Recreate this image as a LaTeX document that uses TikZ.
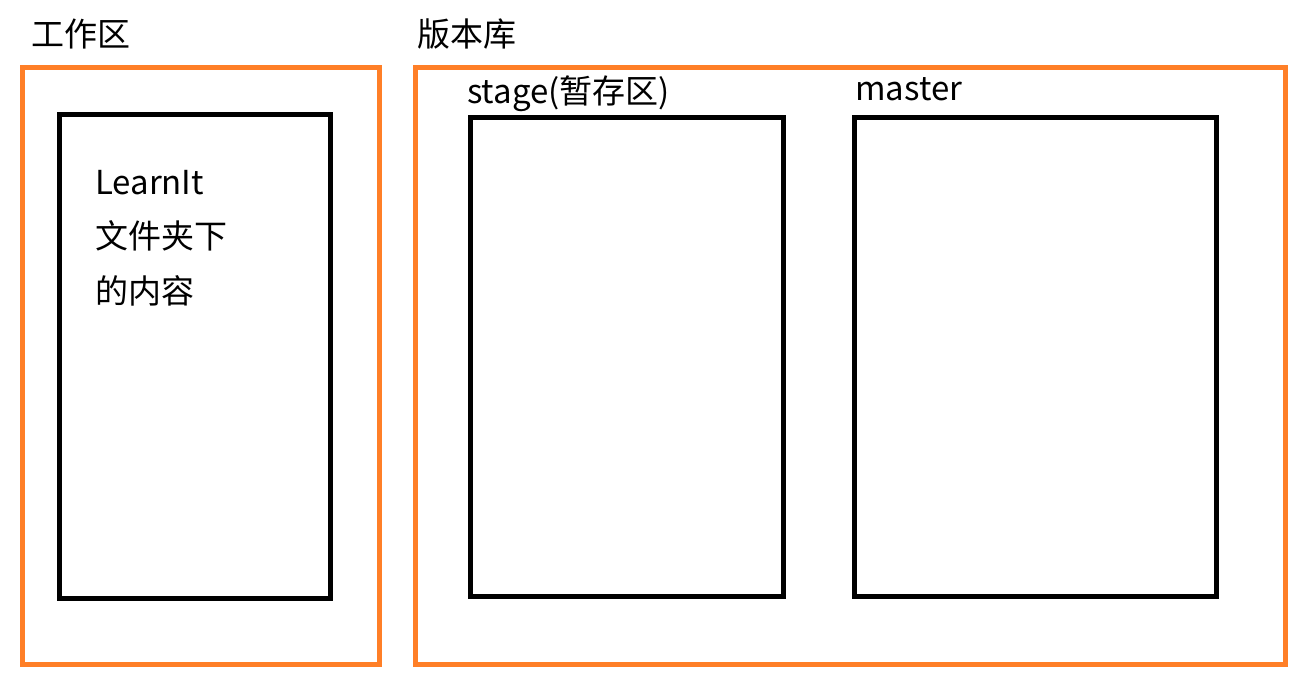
\documentclass[tikz,border=0pt]{standalone}
\usepackage{fontspec}
\setmainfont{Noto Sans CJK SC}
\usepackage{tikz}
\definecolor{boxorange}{RGB}{255,127,39}
\tikzset{
	areabox/.style={draw=boxorange, line width=5pt},
	filebox/.style={draw=black, line width=5pt},
	label/.style={anchor=base west, inner sep=0pt, font=\fontsize{33}{39}\selectfont}
}

\begin{document}
\begin{tikzpicture}[x=1pt, y=-1pt]
		\useasboundingbox (0,0) rectangle (1300,682);

		\draw [areabox] (22.5,67.5) rectangle (379.5,664.5);
		\draw [areabox] (415.5,67.5) rectangle (1285.5,664.5);

		\draw [filebox] (59.5,114.5) rectangle (330.5,598.5);
		\draw [filebox] (470.5,117.5) rectangle (783.5,596);
		\draw [filebox] (854.5,117.5) rectangle (1216.5,596);

		\node [label] (work) at (31,47) {工作区};
		\node [label] (repo) at (417,47) {版本库};
		\node [label] (stage) at (467,103) {stage(暂存区)};
		\node [label] (master) at (855,101) {master};

		\node [label] (line1) at (95,194) {LearnIt};
		\node [label] (line2) at (95,248) {文件夹下};
		\node [label] (line3) at (95,303) {的内容};
	\end{tikzpicture}
\end{document}
